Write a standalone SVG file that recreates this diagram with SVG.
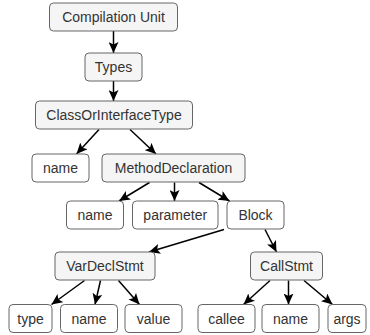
<svg xmlns="http://www.w3.org/2000/svg" width="370" height="335" viewBox="0 0 370 335">
<defs>
<style>
.n rect{stroke:#666;stroke-width:1;rx:4;}
.g rect{fill:#f5f5f5;}
.w rect{fill:#ffffff;}
.n text{font-family:"Liberation Sans",Arial,sans-serif;font-size:14px;fill:#333;text-anchor:middle;dominant-baseline:central;}
#edges line{stroke:#000;stroke-width:1.5;marker-end:url(#ah);}
</style>
<marker id="ah" markerUnits="userSpaceOnUse" markerWidth="12" markerHeight="10" refX="11" refY="5" orient="auto" viewBox="0 0 12 10">
<path d="M0,0 L11,5 L0,10 L2.5,5 Z" fill="#000"/>
</marker>
</defs>
<rect width="370" height="335" fill="#fff"/>
<g id="edges">
<line x1="113.5" y1="31" x2="113.5" y2="53"/>
<line x1="113.5" y1="81" x2="113.5" y2="101"/>
<line x1="99" y1="129.5" x2="76.5" y2="154"/>
<line x1="130" y1="129.5" x2="156" y2="154"/>
<line x1="149.5" y1="182.5" x2="119" y2="201"/>
<line x1="174.5" y1="182.5" x2="174.5" y2="201"/>
<line x1="199" y1="182.5" x2="229.5" y2="201"/>
<line x1="224" y1="229.5" x2="149" y2="252"/>
<line x1="265" y1="229.5" x2="276.5" y2="252"/>
<line x1="84.5" y1="280.5" x2="51.5" y2="304.5"/>
<line x1="100.5" y1="280.5" x2="95" y2="304.5"/>
<line x1="118.5" y1="280.5" x2="139.5" y2="304.5"/>
<line x1="270" y1="280.5" x2="243.5" y2="304.5"/>
<line x1="288.5" y1="280.5" x2="288.5" y2="304.5"/>
<line x1="304" y1="280.5" x2="332.5" y2="304.5"/>
</g>
<g id="compilationUnit" class="n g"><rect x="49.5" y="3" width="128" height="28"/><text x="113.5" y="17">Compilation Unit</text></g>
<g id="types" class="n g"><rect x="85" y="53" width="57" height="28"/><text x="113.5" y="67">Types</text></g>
<g id="classOrInterfaceType" class="n g"><rect x="35.5" y="101" width="157" height="28"/><text x="114" y="115">ClassOrInterfaceType</text></g>
<g id="name1" class="n w"><rect x="32" y="154" width="57" height="28"/><text x="60.5" y="168">name</text></g>
<g id="methodDeclaration" class="n g"><rect x="102" y="154" width="143" height="28"/><text x="173.5" y="168">MethodDeclaration</text></g>
<g id="name2" class="n w"><rect x="66.5" y="201" width="57" height="28"/><text x="95" y="215">name</text></g>
<g id="parameter" class="n w"><rect x="132.5" y="201" width="85.5" height="28"/><text x="175.25" y="215">parameter</text></g>
<g id="block" class="n w"><rect x="227" y="201" width="57" height="28"/><text x="255.5" y="215">Block</text></g>
<g id="varDeclStmt" class="n g"><rect x="55" y="252" width="100" height="28"/><text x="105" y="266">VarDeclStmt</text></g>
<g id="callStmt" class="n g"><rect x="250.5" y="252" width="72" height="28"/><text x="286.5" y="266">CallStmt</text></g>
<g id="type" class="n w"><rect x="9" y="304.5" width="43" height="28"/><text x="30.5" y="318.5">type</text></g>
<g id="name3" class="n w"><rect x="60.5" y="304.5" width="57" height="28"/><text x="89" y="318.5">name</text></g>
<g id="value" class="n w"><rect x="125" y="304.5" width="57" height="28"/><text x="153.5" y="318.5">value</text></g>
<g id="callee" class="n w"><rect x="198" y="304.5" width="57" height="28"/><text x="226.5" y="318.5">callee</text></g>
<g id="name4" class="n w"><rect x="262" y="304.5" width="57" height="28"/><text x="290.5" y="318.5">name</text></g>
<g id="args" class="n w"><rect x="328" y="304.5" width="38" height="28"/><text x="347" y="318.5">args</text></g>
</svg>
